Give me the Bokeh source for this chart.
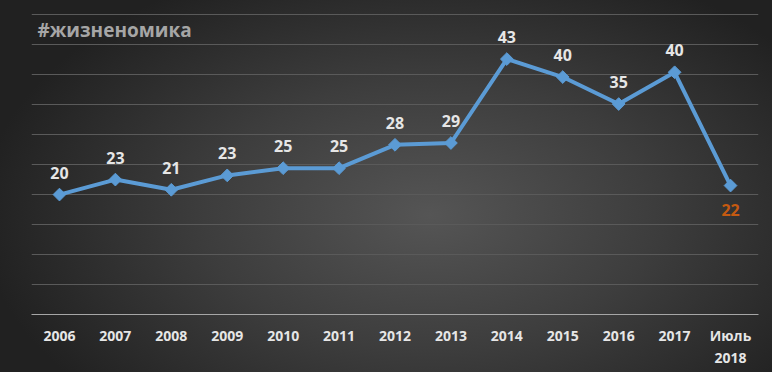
from bokeh.plotting import figure
from bokeh.models import FixedTicker, Range1d, Label, ColumnDataSource
from bokeh.core.properties import value
from bokeh.embed import file_html
from bokeh.resources import INLINE

categories = ["2006", "2007", "2008", "2009", "2010", "2011", "2012",
              "2013", "2014", "2015", "2016", "2017", "Июль\n2018"]
values = [20.0, 22.5, 20.8, 23.2, 24.4, 24.4, 28.3, 28.6, 42.6, 39.6, 35.1, 40.4, 21.5]
value_labels = ["20", "23", "21", "23", "25", "25", "28", "29", "43", "40", "35", "40", "22"]
title_text = "#жизненомика"

xs = list(range(len(categories)))

p = figure(width=772, height=372, output_backend="svg", toolbar_location=None,
           x_range=Range1d(-0.5, len(categories) - 0.5), y_range=Range1d(0, 50.2),
           min_border_left=31, min_border_right=14, min_border_top=13, min_border_bottom=58)
p.styles = {"margin": "0px",
            "background-image": "radial-gradient(ellipse 450px 270px at 430px 215px, #555555 0%, #3d3d3d 50%, #212121 100%)",
            "background-color": "#212121"}
p.background_fill_color = None
p.border_fill_color = None
p.outline_line_color = None

p.yaxis.visible = False
p.ygrid.ticker = FixedTicker(ticks=[0, 5, 10, 15, 20, 25, 30, 35, 40, 45, 50])
p.ygrid.grid_line_color = "#5a5a5a"
p.ygrid.grid_line_width = 1
p.xgrid.visible = False

ax = p.xaxis[0]
ax.ticker = FixedTicker(ticks=xs)
ax.major_label_overrides = {i: c for i, c in zip(xs, categories)}
ax.axis_line_color = "#a6a6a6"
ax.axis_line_width = 1
ax.major_tick_line_color = None
ax.minor_tick_line_color = None
ax.major_label_standoff = 5
ax.major_label_text_font = "Open Sans"
ax.major_label_text_font_style = "bold"
ax.major_label_text_font_size = "14px"
ax.major_label_text_color = "#e6e6e6"
ax.major_label_text_line_height = 1.18

src = ColumnDataSource(dict(x=xs, y=values, t=value_labels))
p.line("x", "y", source=src, line_color="#5b9bd5", line_width=4, line_join="round")
p.scatter("x", "y", source=src, marker="square", angle=0.785398, size=9,
          fill_color="#5b9bd5", line_color="#5b9bd5")

n = len(xs)
top_src = ColumnDataSource(dict(x=xs[:n - 1], y=values[:n - 1], t=value_labels[:n - 1]))
last_src = ColumnDataSource(dict(x=xs[n - 1:], y=values[n - 1:], t=value_labels[n - 1:]))
p.text("x", "y", text="t", source=top_src, y_offset=-22, text_align="center",
       text_baseline="middle", text_font=value("Open Sans"), text_font_style="bold",
       text_font_size="16px", text_color="#e6e6e6")
p.text("x", "y", text="t", source=last_src, y_offset=24, text_align="center",
       text_baseline="middle", text_font=value("Open Sans"), text_font_style="bold",
       text_font_size="16px", text_color="#c55a11")

title = Label(x=6, y=285, x_units="screen", y_units="screen", text=title_text,
              text_font="Open Sans", text_font_style="bold", text_font_size="19px",
              text_color="#a6a6a6", text_baseline="middle")
p.add_layout(title)

open("out.html", "w").write(file_html(p, INLINE))
